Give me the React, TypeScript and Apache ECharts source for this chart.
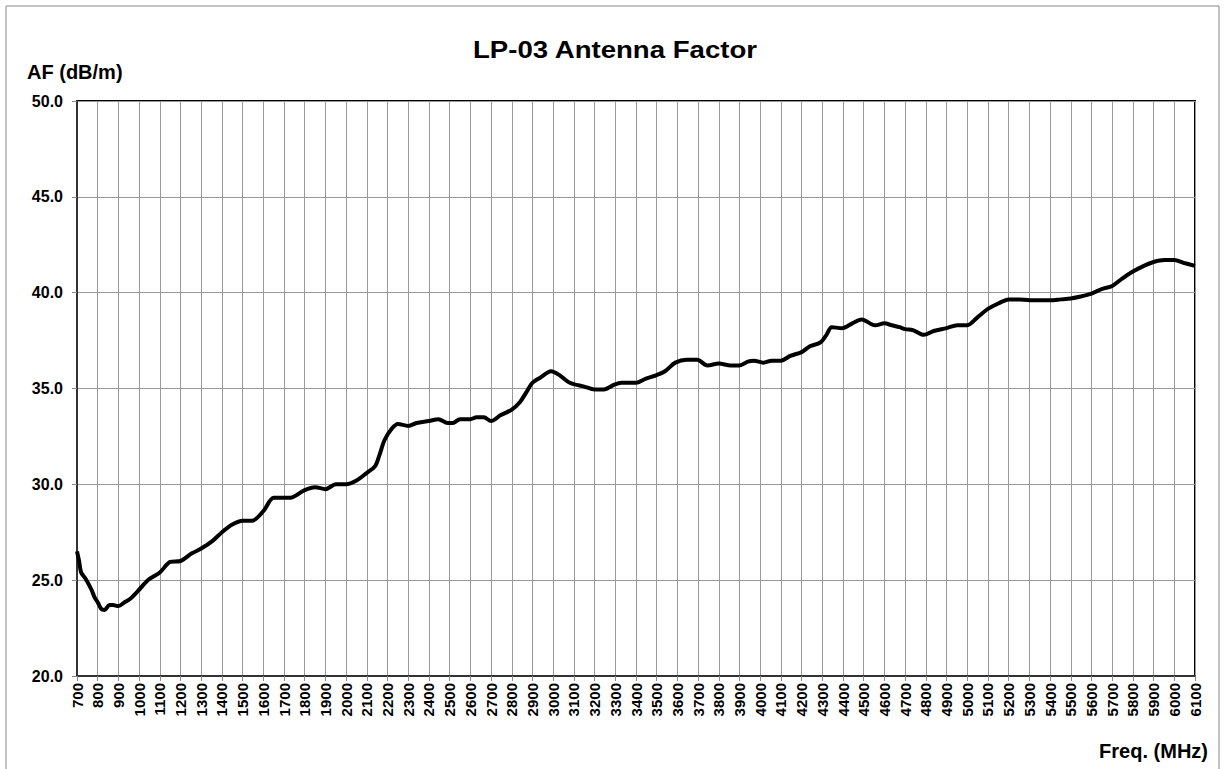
import React, { useEffect, useRef } from "react";
import * as echarts from "echarts";

const titleText = "LP-03 Antenna Factor";
const yAxisTitle = "AF (dB/m)";
const xAxisTitle = "Freq. (MHz)";

const freqs = [
  700, 710, 720, 740, 770, 785, 800, 817, 833, 857, 873, 900, 930, 954, 1000, 1042, 1100, 1150, 1200, 1255,
  1300, 1355, 1400, 1450, 1500, 1545, 1600, 1650, 1700, 1730, 1800, 1850, 1900, 1950, 2000, 2050, 2100, 2140,
  2160, 2185, 2220, 2250, 2300, 2340, 2400, 2445, 2490, 2515, 2550, 2600, 2630, 2665, 2700, 2745, 2800, 2840,
  2870, 2900, 2935, 2990, 3030, 3080, 3150, 3200, 3245, 3295, 3330, 3400, 3445, 3500, 3540, 3590, 3645, 3695,
  3745, 3800, 3857, 3900, 3940, 3970, 4015, 4055, 4100, 4145, 4200, 4240, 4290, 4320, 4345, 4395, 4445, 4490,
  4555, 4600, 4635, 4673, 4700, 4737, 4790, 4838, 4900, 4952, 5000, 5048, 5100, 5152, 5200, 5250, 5300, 5400,
  5452, 5500, 5548, 5600, 5652, 5700, 5750, 5800, 5853, 5900, 5952, 6000, 6048, 6100,
];

const afValues = [
  26.5, 26.0, 25.4, 25.1, 24.5, 24.1, 23.85, 23.5, 23.45, 23.7, 23.7, 23.65, 23.85, 24.0, 24.5, 25.0, 25.4, 25.95, 26.0, 26.4,
  26.65, 27.05, 27.5, 27.9, 28.1, 28.1, 28.6, 29.3, 29.3, 29.3, 29.7, 29.85, 29.75, 30.0, 30.0, 30.2, 30.6, 30.95,
  31.5, 32.3, 32.9, 33.15, 33.05, 33.2, 33.3, 33.4, 33.2, 33.2, 33.4, 33.4, 33.5, 33.5, 33.3, 33.6, 33.9, 34.3,
  34.8, 35.3, 35.55, 35.9, 35.7, 35.3, 35.1, 34.95, 34.95, 35.2, 35.3, 35.3, 35.5, 35.7, 35.9, 36.35, 36.5, 36.5,
  36.2, 36.3, 36.2, 36.2, 36.4, 36.45, 36.35, 36.45, 36.45, 36.7, 36.9, 37.2, 37.4, 37.8, 38.2, 38.15, 38.4, 38.6,
  38.3, 38.4, 38.3, 38.2, 38.1, 38.05, 37.8, 38.0, 38.15, 38.3, 38.3, 38.7, 39.15, 39.45, 39.65, 39.65, 39.6, 39.6,
  39.65, 39.7, 39.8, 39.95, 40.2, 40.35, 40.75, 41.1, 41.4, 41.6, 41.7, 41.7, 41.55, 41.4,
];

const xMin = 700;
const xMax = 6100;
const xStep = 100;
const yMin = 20;
const yMax = 50;
const yStep = 5;

const FONT = "Arial, 'Liberation Sans', sans-serif";

export default function App() {
  const ref = useRef<HTMLDivElement>(null);

  useEffect(() => {
    if (!ref.current) return;
    const chart = echarts.init(ref.current, null, { renderer: "svg" });
    const seriesData = freqs.map((f, i) => [f, afValues[i]]);
    chart.setOption({
      animation: false,
      backgroundColor: "#fff",
      textStyle: { fontFamily: FONT },
      grid: {
        left: 77,
        right: 30,
        top: 101,
        bottom: 93,
        show: true,
        borderColor: "#000",
        borderWidth: 2,
        backgroundColor: "#fff",
      },
      xAxis: {
        type: "value",
        min: xMin,
        max: xMax,
        interval: xStep,
        axisLine: { show: true, lineStyle: { color: "#333", width: 2 } },
        axisTick: { show: true, length: 5, lineStyle: { color: "#888" } },
        splitLine: { show: true, lineStyle: { color: "#999", width: 1 } },
        axisLabel: {
          rotate: 90,
          margin: 7,
          color: "#000",
          fontWeight: "bold",
          fontSize: 15,
          fontFamily: FONT,
          showMinLabel: true,
          showMaxLabel: true,
          hideOverlap: false,
          interval: 0,
          formatter: (v: number) => String(v),
        },
      },
      yAxis: {
        type: "value",
        min: yMin,
        max: yMax,
        interval: yStep,
        axisLine: { show: true, lineStyle: { color: "#333", width: 2 } },
        axisTick: { show: true, length: 5, lineStyle: { color: "#888" } },
        splitLine: { show: true, lineStyle: { color: "#999", width: 1 } },
        axisLabel: {
          margin: 14,
          color: "#000",
          fontWeight: "bold",
          fontSize: 16,
          fontFamily: FONT,
          formatter: (v: number) => v.toFixed(1),
        },
      },
      series: [
        {
          type: "line",
          data: seriesData,
          showSymbol: false,
          smooth: 0.3,
          lineStyle: { color: "#000", width: 4 },
          z: 5,
        },
      ],
      graphic: [
        {
          type: "rect",
          shape: { x: 6, y: 6, width: 1213, height: 800 },
          style: { fill: "none", stroke: "#888", lineWidth: 1 },
          silent: true,
          z: -10,
        },
        {
          type: "text",
          x: 615,
          y: 50,
          scaleX: 1.2,
          style: {
            text: titleText,
            fontSize: 23,
            fontWeight: "bold",
            fontFamily: FONT,
            fill: "#000",
            textAlign: "center",
            textVerticalAlign: "middle",
          },
        },
        {
          type: "text",
          x: 27,
          y: 72,
          style: {
            text: yAxisTitle,
            fontSize: 20,
            fontWeight: "bold",
            fontFamily: FONT,
            fill: "#000",
            textAlign: "left",
            textVerticalAlign: "middle",
          },
        },
        {
          type: "text",
          x: 1208,
          y: 751,
          style: {
            text: xAxisTitle,
            fontSize: 20,
            fontWeight: "bold",
            fontFamily: FONT,
            fill: "#000",
            textAlign: "right",
            textVerticalAlign: "middle",
          },
        },
      ],
    });
    return () => chart.dispose();
  }, []);

  return (
    <div
      ref={ref}
      style={{ position: "fixed", left: 0, top: 0, width: 1225, height: 769, background: "#fff" }}
    />
  );
}
